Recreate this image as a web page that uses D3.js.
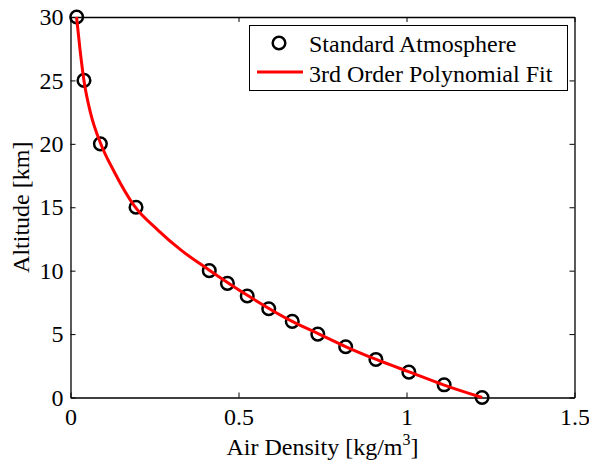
<!DOCTYPE html>
<html lang="en">
<head>
<meta charset="utf-8">
<title>Air Density vs Altitude</title>
<script src="https://d3js.org/d3.v7.min.js"></script>
<style>
  body { margin: 0; background: #fff; }
  text { font-family: "Liberation Serif", "Times New Roman", serif; fill: #000; }
</style>
</head>
<body>
<script>
// standard atmosphere table
var altitude = [0, 1, 2, 3, 4, 5, 6, 7, 8, 9, 10, 15, 20, 25, 30];
var density = [1.225, 1.112, 1.007, 0.909, 0.819, 0.736, 0.660, 0.590, 0.526, 0.467, 0.413, 0.195, 0.0889, 0.0401, 0.0184];

// fit curve
var fitDensity = [0.018, 0.028, 0.040, 0.060, 0.090, 0.130, 0.190, 0.260, 0.330, 0.410, 0.530, 0.660, 0.740, 0.820, 0.910, 1.010, 1.110, 1.225];
var fitAltitude = [30, 27.5, 25, 22.4, 20, 17.8, 15.1, 13.2, 11.6, 10.1, 8.0, 6.0, 5.0, 4.0, 3.0, 2.0, 1.0, 0];

var xTicks = [0, 0.5, 1, 1.5];
var yTicks = [0, 5, 10, 15, 20, 25, 30];

var width = 589, height = 461;
var margin = {left: 70.5, right: 14.5, top: 17, bottom: 63.5};
var fs = 24;

var svg = d3.select("body").append("svg")
    .attr("width", width)
    .attr("height", height);

var x = d3.scaleLinear().domain([0, 1.5]).range([margin.left, width - margin.right]);
var y = d3.scaleLinear().domain([0, 30]).range([height - margin.bottom, margin.top]);

// axes, ticks pointing in (matlab style)
var fmt = function(d) { return String(d); };
var xb = svg.append("g").attr("transform", "translate(0," + y(0) + ")")
    .call(d3.axisBottom(x).tickValues(xTicks).tickFormat(fmt).tickSizeInner(-5).tickSizeOuter(0).tickPadding(10));
var xt = svg.append("g").attr("transform", "translate(0," + y(30) + ")")
    .call(d3.axisTop(x).tickValues(xTicks).tickFormat("").tickSizeInner(-5).tickSizeOuter(0));
var yl = svg.append("g").attr("transform", "translate(" + x(0) + ",0)")
    .call(d3.axisLeft(y).tickValues(yTicks).tickFormat(fmt).tickSizeInner(-5).tickSizeOuter(0).tickPadding(7));
var yr = svg.append("g").attr("transform", "translate(" + x(1.5) + ",0)")
    .call(d3.axisRight(y).tickValues(yTicks).tickFormat("").tickSizeInner(-5).tickSizeOuter(0));

[xb, xt, yl, yr].forEach(function(g) {
  g.attr("font-size", null).attr("font-family", null);
  g.select(".domain").attr("stroke", "#000").attr("stroke-width", 1.3);
  g.selectAll(".tick line").attr("stroke", "#000");
  g.selectAll(".tick text").attr("font-size", fs).attr("fill", "#000");
});

// data points
svg.append("g").selectAll("circle")
    .data(altitude)
    .enter().append("circle")
    .attr("cx", function(d, i) { return x(density[i]); })
    .attr("cy", function(d) { return y(d); })
    .attr("r", 6.3)
    .attr("fill", "none")
    .attr("stroke", "#000")
    .attr("stroke-width", 2.5);

// fit line
var line = d3.line()
    .x(function(d) { return x(d[0]); })
    .y(function(d) { return y(d[1]); })
    .curve(d3.curveMonotoneX);
svg.append("path")
    .datum(d3.zip(fitDensity, fitAltitude))
    .attr("d", line)
    .attr("fill", "none")
    .attr("stroke", "#ff0000")
    .attr("stroke-width", 3);

// axis titles
var xlab = svg.append("text")
    .attr("x", (x(0) + x(1.5)) / 2)
    .attr("y", 455)
    .attr("text-anchor", "middle")
    .attr("font-size", fs);
xlab.append("tspan").text("Air Density [kg/m");
xlab.append("tspan").attr("font-size", 16).attr("dy", -10).text("3");
xlab.append("tspan").attr("dy", 10).text("]");

svg.append("text")
    .attr("transform", "translate(29," + ((y(0) + y(30)) / 2) + ") rotate(-90)")
    .attr("text-anchor", "middle")
    .attr("font-size", fs)
    .text("Altitude [km]");

// legend
var lg = svg.append("g");
lg.append("rect")
    .attr("x", 249.5).attr("y", 25.5)
    .attr("width", 318).attr("height", 65)
    .attr("fill", "#fff")
    .attr("stroke", "#000")
    .attr("stroke-width", 1);
lg.append("circle")
    .attr("cx", 279).attr("cy", 43).attr("r", 6.3)
    .attr("fill", "none").attr("stroke", "#000").attr("stroke-width", 2.5);
lg.append("line")
    .attr("x1", 257).attr("x2", 303).attr("y1", 72).attr("y2", 72)
    .attr("stroke", "#ff0000").attr("stroke-width", 3);
lg.append("text").attr("x", 309).attr("y", 52).attr("font-size", fs).text("Standard Atmosphere");
lg.append("text").attr("x", 309).attr("y", 81.5).attr("font-size", fs).text("3rd Order Polynomial Fit");
</script>
</body>
</html>
